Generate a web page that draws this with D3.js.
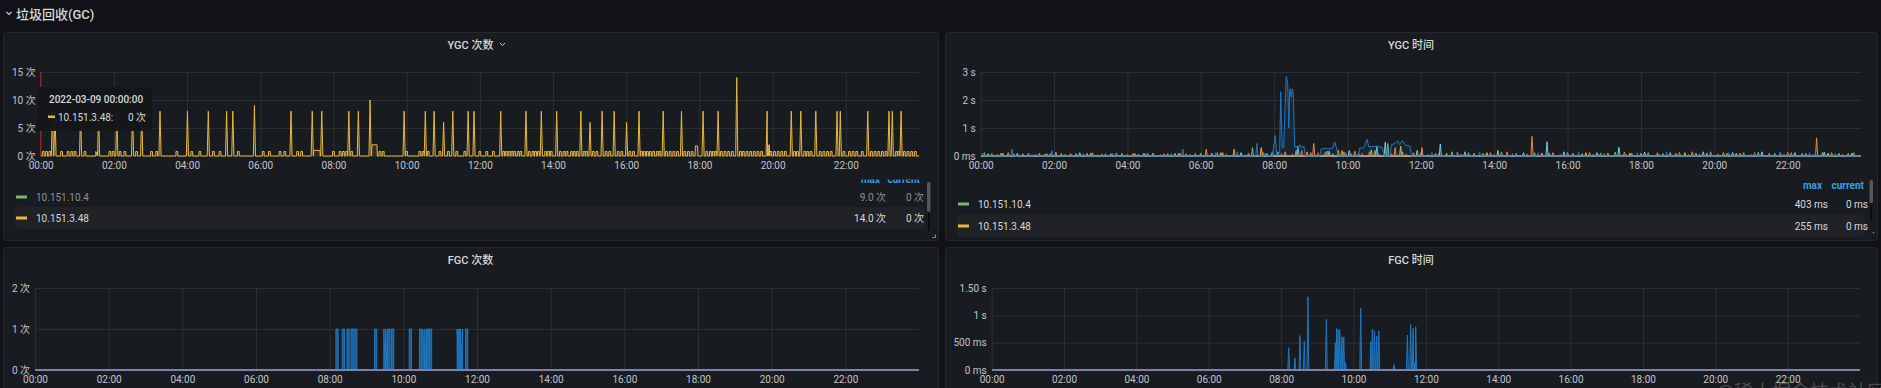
<!DOCTYPE html>
<html>
<head>
<meta charset="utf-8">
<title>垃圾回收(GC)</title>
<script src="https://d3js.org/d3.v7.min.js"></script>
<style>
  body { margin: 0; background: #111217; }
  svg { display: block; width: 1881px; height: 388px; font-family: Roboto, "Noto Sans CJK SC", sans-serif; }
  .panel { fill: #181b1f; stroke: #25272c; }
  .grid { font-family: Roboto, "Noto Sans CJK SC", sans-serif; }
  .grid line { stroke: #2d2f34; }
  .grid text { fill: #c2c5cc; font-size: 10px; }
  .title { fill: #d8d9da; font-size: 11px; font-weight: 500; text-anchor: middle; }
  .legend text { font-size: 10px; }
  .lhead { fill: #33a2e5; font-weight: 700; text-anchor: end; }
</style>
</head>
<body>
<svg></svg>
<script>
// ---------- data ----------
const xTickHours = [0, 2, 4, 6, 8, 10, 12, 14, 16, 18, 20, 22];
const xTickLabels = ['00:00', '02:00', '04:00', '06:00', '08:00', '10:00', '12:00', '14:00', '16:00', '18:00', '20:00', '22:00'];

const ygcCountTicks = [0, 5, 10, 15];
const ygcCountTickLabels = ['0 次', '5 次', '10 次', '15 次'];
const ygcTimeTicks = [0, 1, 2, 3];
const ygcTimeTickLabels = ['0 ms', '1 s', '2 s', '3 s'];
const fgcCountTicks = [0, 1, 2];
const fgcCountTickLabels = ['0 次', '1 次', '2 次'];
const fgcTimeTicks = [0, 0.5, 1, 1.5];
const fgcTimeTickLabels = ['0 ms', '500 ms', '1 s', '1.50 s'];

const seriesNames = ['10.151.10.4', '10.151.3.48'];
const ygcCountMax = ['9.0 次', '14.0 次'];
const ygcCountCurrent = ['0 次', '0 次'];
const ygcTimeMax = ['403 ms', '255 ms'];
const ygcTimeCurrent = ['0 ms', '0 ms'];

// YGC 次数, 10.151.3.48 : [hour, count]
const ygcCountSpikes = [
  [0.32, 8], [0.39, 8], [1.09, 8], [1.58, 8], [2.08, 8], [2.51, 8], [2.76, 8], [3.26, 8], [4.01, 8],
  [4.58, 8], [5.08, 8], [5.25, 8], [5.84, 9], [6.84, 8], [7.42, 8], [7.68, 8], [8.42, 8], [8.68, 8],
  [9.0, 10], [9.93, 8], [10.51, 8], [10.75, 8], [11.01, 6], [11.26, 8], [11.68, 8], [11.84, 8],
  [12.57, 8], [13.26, 8], [13.68, 8], [14.10, 8], [14.76, 8], [15.01, 6], [15.34, 8], [15.67, 8],
  [16.01, 6], [16.35, 8], [17.01, 8], [17.51, 8], [18.10, 8], [18.51, 8], [19.02, 14], [19.85, 8],
  [20.51, 8], [20.77, 8], [21.18, 8], [21.76, 8], [21.85, 8], [22.6, 8], [23.18, 8], [23.27, 8], [23.51, 8]
];
const ygcCountTickTimes = [
  0.07, 0.16, 0.25, 0.57, 0.75, 0.85, 0.94, 1.21, 1.53, 1.89, 1.98, 2.17, 2.30, 2.62, 3.03, 3.17,
  3.72, 4.13, 4.35, 4.72, 4.90, 5.40, 6.08, 6.25, 6.54, 6.67, 7.02, 7.13, 8.0, 8.18, 8.27, 8.36,
  8.50, 9.27, 9.36, 10.0, 10.36, 10.45, 10.59, 10.91, 11.14, 11.37, 11.59, 12.0, 12.19, 12.37,
  12.65, 12.72, 12.80, 12.88, 12.95, 13.05, 13.12, 13.35, 13.45, 13.52, 13.60, 13.80, 13.88, 13.95,
  14.2, 14.3, 14.38, 14.5, 14.58, 14.66, 14.85, 14.92, 15.1, 15.2, 15.45, 15.55, 15.78, 15.88,
  16.1, 16.2, 16.42, 16.5, 16.58, 16.66, 16.75, 16.85, 16.92, 17.1, 17.2, 17.3, 17.4, 17.6, 17.7,
  17.8, 18.2, 18.3, 18.38, 18.45, 18.6, 18.7, 18.8, 18.9, 19.12, 19.2, 19.3, 19.4, 19.5, 19.6,
  19.7, 19.95, 20.05, 20.15, 20.25, 20.35, 20.6, 20.68, 20.88, 20.96, 21.05, 21.3, 21.4, 21.5,
  21.6, 21.95, 22.1, 22.2, 22.3, 22.45, 22.7, 22.8, 22.9, 23.0, 23.1, 23.38, 23.45, 23.6, 23.7,
  23.8, 23.9
];
const ygcCountTickValue = 0.8;
// [start hour, end hour, count]
const ygcCountPlateaus = [[7.45, 7.64, 1], [9.04, 9.2, 2], [17.88, 17.96, 1.8], [19.86, 19.92, 2]];

// YGC 时间 (seconds) : [hour, seconds]
const ygcTimeGreen = [
  [0.1, .12], [0.55, .1], [0.9, .08], [1.3, .1], [1.75, .07], [2.2, .1], [2.6, .09], [3.05, .12], [3.4, .08],
  [3.85, .1], [4.3, .07], [4.7, .11], [5.1, .09], [5.6, .08], [6.0, .1], [6.45, .12], [6.9, .09], [7.41, .3],
  [7.8, .1], [8.1, .15], [8.6, .2], [9.0, .12], [9.45, .18], [9.9, .15], [10.3, .1], [10.75, .2], [11.1, .45],
  [11.5, .15], [12.0, .12], [12.4, .1], [12.85, .15], [13.3, .12], [13.7, .1], [14.2, .14], [14.6, .09],
  [15.1, .12], [15.5, .1], [16.0, .13], [16.4, .09], [16.9, .11], [17.3, .14], [17.75, .1], [18.2, .12],
  [18.6, .09], [19.05, .13], [19.5, .11], [19.9, .15], [20.35, .1], [20.8, .12], [21.2, .14], [21.65, .1],
  [22.1, .12], [22.5, .09], [22.95, .13], [23.4, .1], [23.8, .12]
];
const ygcTimeYellow = [
  [0.6, .1], [1.8, .08], [3.0, .1], [4.2, .09], [5.4, .1], [6.55, .12], [7.65, .3], [8.9, .15], [9.75, .2],
  [10.65, .22], [11.45, .35], [12.7, .1], [13.8, .12], [15.3, .1], [16.5, .12], [17.7, .1], [19.2, .12],
  [20.6, .1], [21.8, .12], [23.1, .1]
];
const ygcTimeOrange = [
  [0.3, .09], [0.75, .12], [1.15, .08], [1.6, .1], [2.05, .14], [2.45, .09], [2.9, .1], [3.3, .07], [3.7, .11],
  [4.15, .09], [4.55, .1], [5.0, .08], [5.45, .1], [5.85, .09], [6.15, .25], [6.6, .12], [6.91, .25], [7.3, .1],
  [7.7, .12], [8.3, .15], [8.75, .2], [9.08, .45], [9.4, .15], [9.85, .2], [10.2, .18], [10.6, .15], [11.3, .3],
  [11.8, .12], [12.03, .3], [12.5, .1], [13.0, .14], [13.45, .1], [13.9, .12], [14.35, .15], [15.03, .7],
  [15.6, .12], [16.15, .1], [16.6, .13], [17.1, .11], [17.55, .14], [18.0, .1], [18.45, .12], [18.95, .1],
  [19.4, .15], [19.8, .11], [20.25, .13], [20.7, .1], [21.1, .12], [21.5, .1], [22.0, .13], [22.4, .1],
  [22.79, .65], [23.2, .12], [23.65, .1]
];
const ygcTimeRed = [
  [0.45, .06], [1.4, .05], [2.3, .07], [3.2, .05], [4.0, .06], [4.9, .05], [5.7, .06], [6.7, .08], [7.55, .07],
  [8.2, .1], [8.5, .08], [8.9, .1], [9.2, .12], [9.35, .08], [9.6, .1], [9.95, .12], [10.1, .08], [10.4, .1],
  [10.85, .09], [11.2, .1], [11.6, .08], [12.2, .06], [13.1, .07], [14.0, .06], [14.9, .08], [15.8, .06],
  [16.7, .07], [17.6, .06], [18.5, .07], [19.3, .06], [20.1, .08], [21.0, .06], [21.9, .07], [22.7, .06], [23.5, .07]
];
const ygcTimeCyan = [
  [0.2, .08], [1.0, .1], [1.9, .09], [2.7, .12], [3.55, .08], [4.45, .1], [5.3, .09], [6.3, .1], [7.1, .12],
  [7.95, .15], [8.65, .35], [9.5, .18], [10.05, .2], [10.8, .35], [11.03, .5], [11.9, .2], [12.53, .43],
  [13.2, .15], [14.1, .2], [14.8, .12], [15.44, .51], [15.9, .15], [16.8, .12], [17.4, .31], [18.1, .14],
  [18.8, .12], [19.7, .15], [20.5, .13], [21.3, .15], [22.2, .12], [23.0, .14], [23.75, .1]
];
const ygcTimeBlueSpikes = [
  [0.05, .1], [0.85, .25], [1.5, .08], [1.94, .2], [2.8, .09], [3.6, .1], [4.5, .08], [5.2, .1], [5.51, .25],
  [6.4, .12], [7.0, .15], [7.53, .45], [7.75, .1], [12.3, .12], [13.0, .1], [13.6, .15], [14.5, .1],
  [15.2, .12], [16.3, .15], [17.0, .1], [17.9, .12], [18.7, .15], [19.6, .1], [20.4, .12], [21.1, .1],
  [21.8, .14], [22.6, .12], [23.3, .1]
];
const ygcTimeBlueBurst = [
  [7.95, 0], [8.03, .73], [8.07, .05], [8.15, .1], [8.18, 2.3], [8.22, .3], [8.26, .3], [8.33, 2.85],
  [8.37, 2.6], [8.40, 1.0], [8.43, 2.4], [8.47, 2.1], [8.49, 2.4], [8.52, 2.3], [8.56, .3], [8.6, .35],
  [8.65, .25], [8.7, .4], [8.75, .3], [8.81, .35], [8.85, 0],
  [9.25, 0], [9.28, .25], [9.4, .28], [9.5, .25], [9.6, .3], [9.65, .5], [9.7, .3], [9.75, 0],
  [10.3, 0], [10.33, .28], [10.45, .3], [10.53, .6], [10.58, .32], [10.8, .35], [10.95, .3], [11.0, 0],
  [11.15, 0], [11.2, .4], [11.3, .45], [11.37, .55], [11.42, .4], [11.5, .55], [11.58, .4], [11.7, .35], [11.75, 0]
];

// FGC 次数 : [hour, count]
const fgcCount = [
  [8.20, 1], [8.37, 1], [8.50, 1], [8.61, 1], [8.71, 1], [9.25, 1], [9.50, 1], [9.54, 1], [9.61, 1], [9.71, 1],
  [10.19, 1], [10.47, 1], [10.56, 1], [10.61, 1], [10.67, 1], [10.74, 1], [11.49, 1], [11.53, 1], [11.58, 1], [11.72, 1]
];
// FGC 时间 : [hour, seconds]
const fgcTime = [
  [8.21, .41], [8.38, .22], [8.52, .63], [8.64, .53], [8.74, 1.34], [9.25, .93], [9.50, .5], [9.53, .76],
  [9.57, .74], [9.62, .74], [9.68, .61], [9.73, .6], [9.78, .13], [10.20, 1.13], [10.48, .52], [10.52, .75],
  [10.58, .72], [10.64, .62], [10.70, .71], [11.12, .1], [11.49, .64], [11.58, .84], [11.65, .76], [11.69, .13], [11.72, .79]
];

// ---------- drawing ----------
let svg = d3.select('svg');

function spikes(list, half) {
  return list.flatMap(([t, v]) => [[t - half, 0], [t, v], [t + half, 0]]);
}
function blocks(list, half) {
  return list.flatMap(([t, v]) => [[t - half, 0], [t - half, v], [t + half, v], [t + half, 0]]);
}
function series(...parts) {
  return [[0, 0], ...parts.flat(), [24, 0]].sort((a, b) => a[0] - b[0]);
}

function drawPanel(cfg) {
  let g = svg.append('g');
  g.append('rect').attr('class', 'panel')
    .attr('x', cfg.box.x + 0.5).attr('y', cfg.box.y + 0.5)
    .attr('width', cfg.box.w).attr('height', cfg.box.h).attr('rx', 3);
  g.append('text').attr('class', 'title')
    .attr('x', cfg.box.x + cfg.box.w / 2).attr('y', cfg.box.y + 17).text(cfg.title);

  let x = d3.scaleLinear().domain([0, 24]).range([cfg.plot.left, cfg.plot.right]);
  let y = d3.scaleLinear().domain([0, cfg.yMax]).range([cfg.plot.bottom, cfg.plot.top]);
  let w = cfg.plot.right - cfg.plot.left;
  let h = cfg.plot.bottom - cfg.plot.top;

  g.append('g').attr('class', 'grid')
    .attr('transform', `translate(0,${cfg.plot.bottom})`)
    .call(d3.axisBottom(x).tickValues(xTickHours).tickFormat((d, i) => xTickLabels[i]).tickSize(-h).tickPadding(6))
    .call(a => a.select('.domain').remove());
  g.append('g').attr('class', 'grid')
    .attr('transform', `translate(${cfg.plot.left},0)`)
    .call(d3.axisLeft(y).tickValues(cfg.yTicks).tickFormat((d, i) => cfg.yLabels[i]).tickSize(-w).tickPadding(5))
    .call(a => a.select('.domain').remove());

  svg.append('clipPath').attr('id', 'clip' + cfg.id)
    .append('rect').attr('x', cfg.plot.left).attr('y', cfg.plot.top - 2)
    .attr('width', w).attr('height', h + 3);
  let plot = g.append('g').attr('clip-path', `url(#clip${cfg.id})`);

  let line = d3.line().x(d => x(d[0])).y(d => y(d[1]));
  let area = d3.area().x(d => x(d[0])).y0(y(0)).y1(d => y(d[1]));
  cfg.series.forEach(s => {
    plot.append('path').attr('d', area(s.points))
      .attr('fill', s.color).attr('fill-opacity', s.fill);
    plot.append('path').attr('d', line(s.points))
      .attr('fill', 'none').attr('stroke', s.color).attr('stroke-width', s.width || 1);
  });
  return {g, x, y};
}

// header
svg.append('path').attr('d', 'M6.5 12 L9 14.5 L11.5 12').attr('fill', 'none')
  .attr('stroke', '#c7d0d9').attr('stroke-width', 1.2);
svg.append('text').attr('x', 16).attr('y', 19).attr('fill', '#d8d9da')
  .attr('font-size', 13).attr('font-weight', 500).text('垃圾回收(GC)');

// YGC 次数
let p1 = drawPanel({
  id: 1, title: 'YGC 次数',
  box: {x: 3, y: 32, w: 935, h: 208},
  plot: {left: 40.7, right: 919, top: 72, bottom: 156},
  yMax: 15, yTicks: ygcCountTicks, yLabels: ygcCountTickLabels,
  series: [{
    color: '#eab839', fill: 0.12,
    points: series(
      spikes(ygcCountSpikes, 0.03),
      blocks(ygcCountTickTimes.map(t => [t, ygcCountTickValue]), 0.025),
      ygcCountPlateaus.map(([s, e, v]) => [[s, 0], [s + 0.01, v], [e - 0.01, v], [e, 0]]).flat()
    )
  }]
});
p1.g.append('path').attr('d', 'M500 43 L502.5 45.5 L505 43').attr('fill', 'none')
  .attr('stroke', '#c7d0d9').attr('stroke-width', 1);
// hover crosshair + tooltip
p1.g.append('line').attr('x1', p1.x(0)).attr('x2', p1.x(0)).attr('y1', 72).attr('y2', 156)
  .attr('stroke', '#9e2a2f').attr('stroke-width', 1);
let tip = p1.g.append('g');
tip.append('rect').attr('x', 37).attr('y', 87).attr('width', 115).attr('height', 44)
  .attr('fill', '#141619').attr('fill-opacity', 0.96).attr('rx', 2);
tip.append('text').attr('x', 49).attr('y', 102.5).attr('fill', '#d8d9da')
  .attr('font-size', 10).attr('font-weight', 500).text('2022-03-09 00:00:00');
tip.append('rect').attr('x', 48).attr('y', 115.5).attr('width', 7).attr('height', 2.5).attr('fill', '#eab839');
tip.append('text').attr('x', 58).attr('y', 120.5).attr('fill', '#d8d9da').attr('font-size', 10).text('10.151.3.48:');
tip.append('text').attr('x', 146).attr('y', 120.5).attr('fill', '#d8d9da').attr('font-size', 10)
  .attr('text-anchor', 'end').text('0 次');

// YGC 时间
let p2 = drawPanel({
  id: 2, title: 'YGC 时间',
  box: {x: 945, y: 32, w: 932, h: 208},
  plot: {left: 980.7, right: 1861, top: 72, bottom: 156},
  yMax: 3, yTicks: ygcTimeTicks, yLabels: ygcTimeTickLabels,
  series: [
    {color: '#7eb26d', fill: 0.1, points: series(spikes(ygcTimeGreen, 0.03))},
    {color: '#eab839', fill: 0.1, points: series(spikes(ygcTimeYellow, 0.03))},
    {color: '#ef843c', fill: 0.1, points: series(spikes(ygcTimeOrange, 0.03))},
    {color: '#e24d42', fill: 0.1, points: series(spikes(ygcTimeRed, 0.03))},
    {color: '#6ed0e0', fill: 0.1, points: series(spikes(ygcTimeCyan, 0.03))},
    {color: '#1f78c1', fill: 0.12, points: series(spikes(ygcTimeBlueSpikes, 0.03), ygcTimeBlueBurst)}
  ]
});

// FGC 次数
drawPanel({
  id: 3, title: 'FGC 次数',
  box: {x: 3, y: 247, w: 935, h: 150},
  plot: {left: 35, right: 919, top: 288, bottom: 370},
  yMax: 2, yTicks: fgcCountTicks, yLabels: fgcCountTickLabels,
  series: [
    {color: '#1f78c1', fill: 0.7, points: series(blocks(fgcCount, 0.03))},
    {color: '#7f82a8', fill: 0, width: 2, points: series([])}
  ]
});

// FGC 时间
drawPanel({
  id: 4, title: 'FGC 时间',
  box: {x: 945, y: 247, w: 932, h: 150},
  plot: {left: 991.7, right: 1860, top: 288, bottom: 370},
  yMax: 1.5, yTicks: fgcTimeTicks, yLabels: fgcTimeTickLabels,
  series: [
    {color: '#1f78c1', fill: 0.35, points: series(spikes(fgcTime, 0.025))},
    {color: '#7f82a8', fill: 0, width: 2, points: series([])}
  ]
});

// legends
const legendColors = ['#7eb26d', '#eab839'];
function drawLegend(o) {
  let g = svg.append('g').attr('class', 'legend');
  svg.append('clipPath').attr('id', 'lclip' + o.id)
    .append('rect').attr('x', o.left - 5).attr('y', o.clipTop).attr('width', 1000).attr('height', 80);
  let head = g.append('g').attr('clip-path', `url(#lclip${o.id})`);
  head.append('text').attr('class', 'lhead').attr('x', o.maxX - 6).attr('y', o.headY).text('max');
  head.append('text').attr('class', 'lhead').attr('x', o.curX - 4).attr('y', o.headY).text('current');
  g.append('rect').attr('x', o.left).attr('y', o.rows[1] - 11).attr('width', o.bgW).attr('height', 22)
    .attr('fill', '#202226').attr('rx', 2);
  seriesNames.forEach((name, i) => {
    let cy = o.rows[i];
    let col = o.dim && i === 0 ? '#8e9096' : '#d8d9da';
    g.append('rect').attr('x', o.left + 1).attr('y', cy - 1.5).attr('width', 11).attr('height', 3)
      .attr('fill', legendColors[i]);
    g.append('text').attr('x', o.left + 21).attr('y', cy + 3.5).attr('fill', col).text(name);
    g.append('text').attr('x', o.maxX).attr('y', cy + 3.5).attr('fill', col)
      .attr('text-anchor', 'end').text(o.max[i]);
    g.append('text').attr('x', o.curX).attr('y', cy + 3.5).attr('fill', col)
      .attr('text-anchor', 'end').text(o.cur[i]);
  });
  // scrollbar
  g.append('rect').attr('x', o.sbX).attr('y', o.sbTop).attr('width', 3.5).attr('height', o.sbLen)
    .attr('fill', '#55575c').attr('rx', 1.5);
  g.append('rect').attr('x', o.sbX + 1).attr('y', o.sbTop + o.sbLen).attr('width', 1.5).attr('height', 18)
    .attr('fill', '#0b0c0e');
}
drawLegend({id: 1, left: 15, clipTop: 179.5, headY: 183, rows: [197, 218], bgW: 910, maxX: 886, curX: 924,
  max: ygcCountMax, cur: ygcCountCurrent, dim: true, sbX: 927, sbTop: 182, sbLen: 30});
drawLegend({id: 2, left: 957, clipTop: 170, headY: 188.5, rows: [204, 226], bgW: 908, maxX: 1828, curX: 1868,
  max: ygcTimeMax, cur: ygcTimeCurrent, dim: false, sbX: 1869.5, sbTop: 180, sbLen: 23});

// resize corners
svg.append('path').attr('d', 'M932.5 237.5 H935.5 V234.5').attr('fill', 'none').attr('stroke', '#8e9096');
svg.append('circle').attr('cx', 1873.5).attr('cy', 232.5).attr('r', 0.8).attr('fill', '#8e9096');

// watermark
svg.append('text').attr('x', 1716).attr('y', 399).attr('fill', '#c8c8c8').attr('fill-opacity', 0.3)
  .attr('font-size', 19).attr('font-family', '"Noto Sans CJK SC", sans-serif').text('@稀土掘金技术社区');
</script>
</body>
</html>
